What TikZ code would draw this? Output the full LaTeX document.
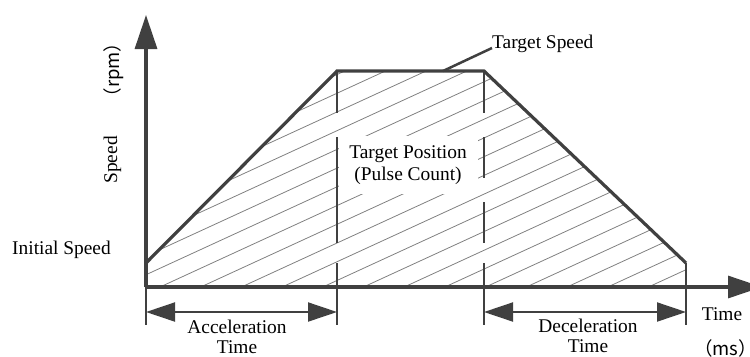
\documentclass[tikz,border=0pt]{standalone}
\usepackage{fontspec}
\setmainfont{Liberation Serif}
\newfontfamily\cjkfont{Noto Sans CJK SC}
\usetikzlibrary{arrows.meta}
\definecolor{ink}{HTML}{404040}
\definecolor{hatchgray}{HTML}{808080}
\begin{document}
\begin{tikzpicture}[x=1bp,y=-1bp,
  lbl/.style={font=\fontsize{19.4bp}{21.5bp}\selectfont, inner sep=0pt, text=black},
  cjklbl/.style={font=\cjkfont\fontsize{18.5bp}{21bp}\selectfont, inner sep=0pt, text=black},
  axisline/.style={draw=ink, line width=3.2bp, -{Triangle[length=34bp,width=22bp]}},
  outline/.style={draw=ink, line width=3.2bp, line join=miter},
  guide/.style={draw=ink, line width=2.8bp},
  extline/.style={draw=ink, line width=2.5bp},
  dimline/.style={draw=ink, line width=2bp, {Triangle[length=29bp,width=19bp]}-{Triangle[length=29bp,width=19bp]}},
  leaderline/.style={draw=ink, line width=2.5bp},
  hatchline/.style={draw=hatchgray, line width=0.8bp}
]
\useasboundingbox (0,0) rectangle (750,356);

% key points
\coordinate (O) at (146,287);
\coordinate (A) at (146,263);
\coordinate (B) at (337,71);
\coordinate (C) at (484,71);
\coordinate (D) at (686,263);
\coordinate (E) at (686,287);
\coordinate (Ytip) at (146,15);
\coordinate (Xtip) at (762,287);
\coordinate (Bdash) at (337,243);
\coordinate (Cdash) at (484,243);
\coordinate (Bext) at (337,263);
\coordinate (Cext) at (484,263);
\coordinate (Oext) at (146,325);
\coordinate (Bbot) at (337,325);
\coordinate (Cbot) at (484,325);
\coordinate (Ebot) at (686,325);
\coordinate (accL) at (146,312);
\coordinate (accR) at (337,312);
\coordinate (decL) at (484,312);
\coordinate (decR) at (686,312);
\coordinate (lead) at (443,71);

% hatching
\begin{scope}
  \clip (A) -- (B) -- (C) -- (D) -- (E) -- (O) -- cycle;
  \foreach \i in {-11,...,14} {
    \draw[hatchline] ({160+40.7*\i-200},{287+0.46*200}) -- ++(900,{-0.46*900});
  }
\end{scope}

% center label with white backing
\node[lbl, fill=white, align=center, minimum width=139bp, minimum height=58bp] (tp) at (408,165) {Target Position\\(Pulse Count)};

% dashed guides
\draw[guide, dash pattern=on 42bp off 24bp on 108bp off 20bp] (B) -- (Bdash);
\draw[guide, dash pattern=on 42bp off 24bp on 41bp off 24bp on 41bp off 20bp] (C) -- (Cdash);

% extension lines
\draw[extline] (Bext) -- (Bbot);
\draw[extline] (Cext) -- (Cbot);
\draw[extline] (D) -- (Ebot);
\draw[extline] (O) -- (Oext);

% speed profile
\draw[outline] (A) -- (B) -- (C) -- (D);

% axes
\draw[axisline] (O) -- (Ytip);
\draw[axisline] (O) -- (Xtip);

% dimension arrows
\draw[dimline] (accL) -- (accR);
\draw[dimline] (decL) -- (decR);

% labels
\node[lbl, anchor=base west] (ts) at (492,48) {Target Speed};
\draw[leaderline] (lead) -- (ts.base west);
\node[lbl, anchor=base west] (is) at (12,254) {Initial Speed};
\node[lbl, rotate=90] (sp) at (112.5,160) {Speed};
\node[cjklbl, rotate=90] (rpm) at (113.5,70) {（rpm）};
\node[lbl, anchor=base] (tm) at (722,320) {Time};
\node[cjklbl, anchor=base west] (ms) at (694,355) {（ms）};
\node[lbl, anchor=base] (acc1) at (237,333) {Acceleration};
\node[lbl, anchor=base] (acc2) at (237,353) {Time};
\node[lbl, anchor=base] (dec1) at (588,332) {Deceleration};
\node[lbl, anchor=base] (dec2) at (588,352) {Time};
\end{tikzpicture}
\end{document}
